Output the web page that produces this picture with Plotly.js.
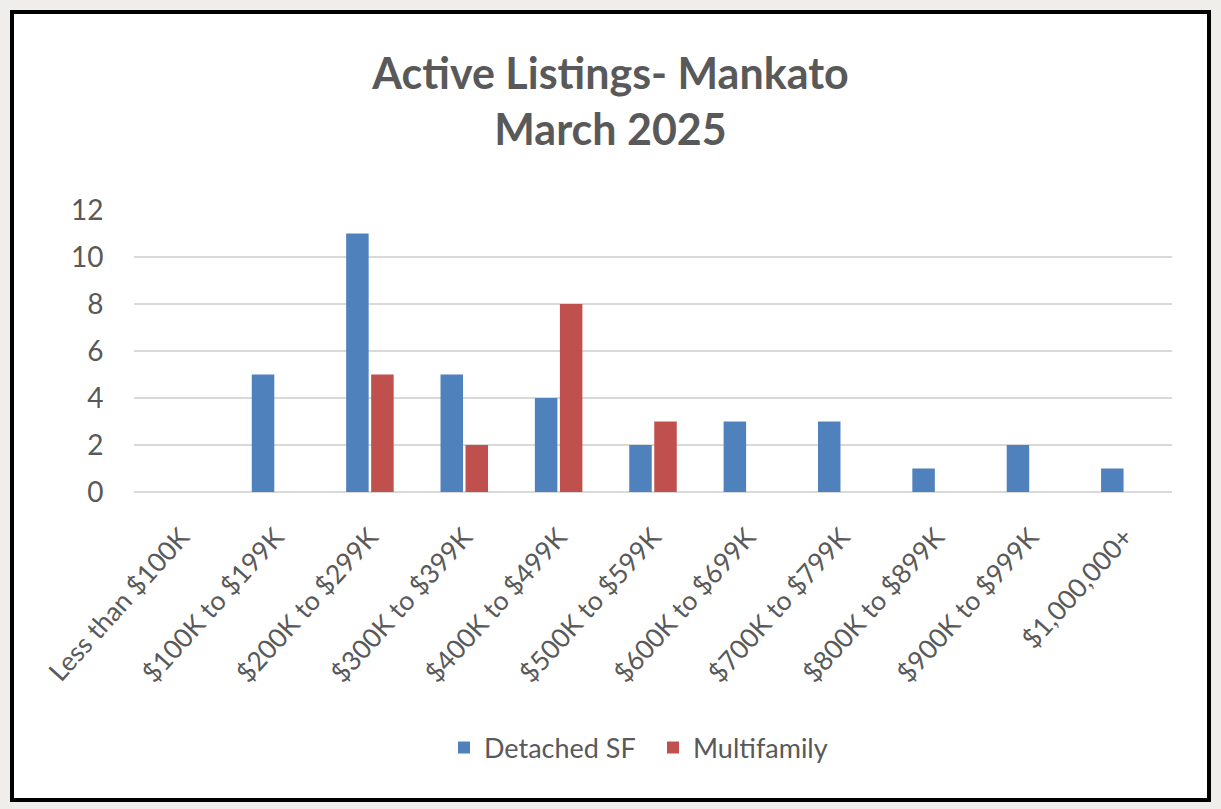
<!DOCTYPE html>
<html>
<head>
<meta charset="utf-8">
<script src="https://cdn.plot.ly/plotly-3.0.1.min.js"></script>
<style>html,body{margin:0;padding:0;background:#efeeea;}#chart{width:1221px;height:809px;}</style>
</head>
<body>
<div id="chart"></div>
<script>
const categories = ["Less than $100K","$100K to $199K","$200K to $299K","$300K to $399K","$400K to $499K","$500K to $599K","$600K to $699K","$700K to $799K","$800K to $899K","$900K to $999K","$1,000,000+"];
const detachedSF = [0,5,11,5,4,2,3,3,1,2,1];
const multifamily = [0,0,5,2,8,3,0,0,0,0,0];
const seriesNames = ["Detached SF","Multifamily"];
const yTicks = [0,2,4,6,8,10,12];

const W = 1221, H = 809;
const L = 134, R = 49, T = 210, B = 317;
const pw = W - L - R, ph = H - T - B;
const px = v => (v - L) / pw;
const py = v => (H - B - v) / ph;

const traces = [
  {type:'bar', name:seriesNames[0], x:categories, y:detachedSF, marker:{color:'#4f81bd'}},
  {type:'bar', name:seriesNames[1], x:categories, y:multifamily, marker:{color:'#c0504d'}}
];

const font = 'Lato, "Open Sans", sans-serif';
const layout = {
  width: W, height: H,
  paper_bgcolor: '#efeeea',
  plot_bgcolor: 'rgba(0,0,0,0)',
  margin: {l:L, r:R, t:T, b:B, pad:0},
  barmode: 'group',
  bargap: 0.47,
  bargroupgap: 0.1,
  font: {family: font, color:'#595959'},
  title: {
    text: '<b>Active Listings- Mankato</b><br><b>March 2025</b>',
    font: {family: font, size: 43, color:'#595959', lineposition:'none'},
    x: 0.5, xref:'container', xanchor:'center',
    y: 1 - 89/H, yref:'container', yanchor:'top'
  },
  xaxis: {
    type:'category',
    tickangle: -48,
    tickfont: {family: font, size: 26.5, color:'#595959'},
    showgrid:false, zeroline:false, showline:false,
    ticks:'outside', ticklen: 18, tickcolor:'rgba(0,0,0,0)', automargin:false
  },
  yaxis: {
    range:[0,12], tickvals: yTicks, ticktext: yTicks.map(String),
    tickfont: {family: font, size: 28, color:'#595959'},
    showgrid:true, gridcolor:'#d9d9d9', gridwidth:2.5,
    zeroline:true, zerolinecolor:'#d9d9d9', zerolinewidth:2.5,
    showline:false, ticks:'outside', ticklen:24, tickcolor:'rgba(0,0,0,0)',
    automargin:false
  },
  legend: {
    orientation:'h', x:0.5, xanchor:'center',
    y: py(748), yanchor:'middle',
    bgcolor:'rgba(0,0,0,0)',
    font:{family: font, size:27, color:'#595959'},
    itemwidth:30, traceorder:'normal', entrywidth: 164
  },
  shapes: [{
    type:'rect', xref:'paper', yref:'paper', layer:'below',
    x0: px(12), x1: px(1209), y0: py(800), y1: py(12),
    fillcolor:'#ffffff', line:{color:'#000000', width:4}
  }]
};

Plotly.newPlot('chart', traces, layout, {displayModeBar:false, staticPlot:true});
</script>
</body>
</html>
